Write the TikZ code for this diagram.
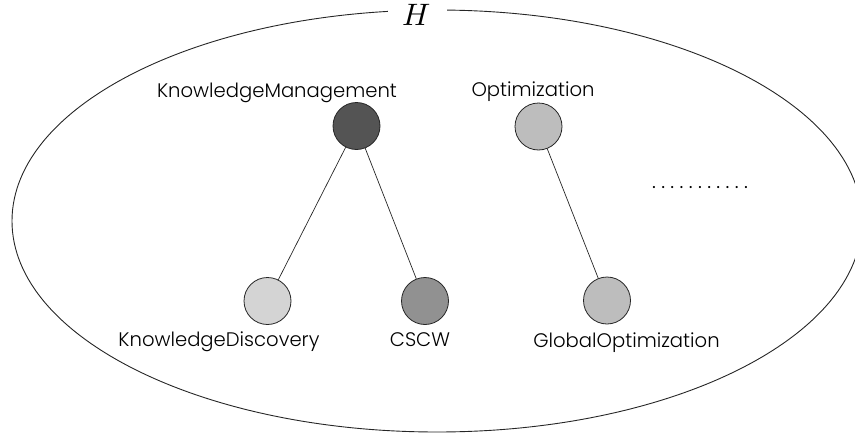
\documentclass[tikz,border=0pt]{standalone}
\usepackage{fontspec}
\setmainfont{Poppins}[UprightFont=* Light]
\usepackage{unicode-math}
\begin{document}
\begin{tikzpicture}[x=1pt,y=-1pt,
  vert/.style={circle,draw=black!85,line width=0.8pt,minimum size=47pt,inner sep=0pt},
  lbl/.style={anchor=base,inner sep=0pt,font=\fontsize{19.6}{22}\selectfont},
  edge/.style={draw=black!85,line width=0.7pt}]
\useasboundingbox (0,0) rectangle (855,434);
\draw[line width=0.9pt,black!85] (437,221) ellipse [x radius=425, y radius=211];
\node[fill=white,inner sep=0pt,minimum width=59pt,minimum height=20pt,font=\fontsize{31}{33}\selectfont] (H) at (417,15) {$H$};
\node[vert,fill=black!67] (km) at (356.5,126) {};
\node[vert,fill=black!26] (opt) at (538.5,126.5) {};
\node[vert,fill=black!17] (kd) at (267.5,301) {};
\node[vert,fill=black!43] (cscw) at (425,301) {};
\node[vert,fill=black!26] (go) at (607,300.5) {};
\draw[edge] (km) -- (kd);
\draw[edge] (km) -- (cscw);
\draw[edge] (opt) -- (go);
\node[lbl] (kmL) at (277,97) {KnowledgeManagement};
\node[lbl] (optL) at (533,96) {Optimization};
\node[lbl] (kdL) at (219,346) {KnowledgeDiscovery};
\node[lbl] (cscwL) at (420,346) {CSCW};
\node[lbl] (goL) at (626.5,347) {GlobalOptimization};
\node[anchor=base,inner sep=0pt,font=\fontsize{21}{24}\selectfont] (dots) at (700,188) {\foreach \i in {1,...,11}{\makebox[9.2pt]{.}}};
\end{tikzpicture}
\end{document}
